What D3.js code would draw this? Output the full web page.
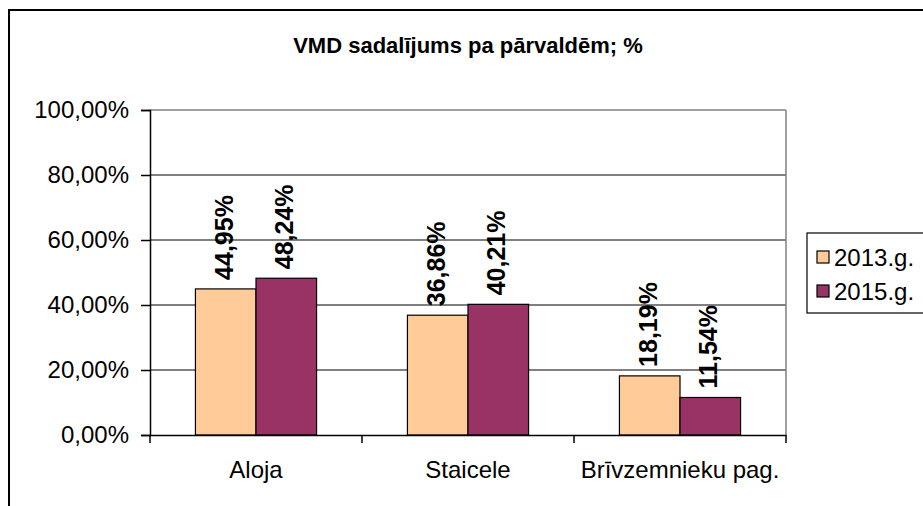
<!DOCTYPE html>
<html lang="lv">
<head>
  <meta charset="UTF-8">
  <title>VMD sadalījums pa pārvaldēm</title>
  <script src="https://d3js.org/d3.v7.min.js"></script>
  <style>
    body { margin: 0; background: #fff; }
    svg { display: block; font-family: "Liberation Sans", Arial, sans-serif; }
  </style>
</head>
<body>
  <svg id="chart" width="923" height="506"></svg>
  <script>
    // Data
    const categories = ["Aloja", "Staicele", "Brīvzemnieku pag."];
    const seriesNames = ["2013.g.", "2015.g."];
    const values2013 = [44.95, 36.86, 18.19];
    const values2015 = [48.24, 40.21, 11.54];
    const yTicks = [0, 20, 40, 60, 80, 100];
    const colors = ["#FFCC99", "#993366"];

    const svg = d3.select("#chart");
    const fmt = v => v.toFixed(2).replace(".", ",") + "%";
    const FONT = "Liberation Sans, Arial, sans-serif";

    // outer chart border
    svg.append("rect")
      .attr("x", 9).attr("y", 10)
      .attr("width", 1000).attr("height", 600)
      .attr("fill", "#fff").attr("stroke", "#000").attr("stroke-width", 2);

    svg.append("text")
      .attr("x", 468).attr("y", 53)
      .attr("text-anchor", "middle")
      .attr("font-size", 22).attr("font-weight", "bold")
      .text("VMD sadalījums pa pārvaldēm; %");

    const plot = {left: 150, right: 786, top: 110, bottom: 435};

    const x = d3.scaleBand().domain(categories).range([plot.left, plot.right]);
    const y = d3.scaleLinear().domain([0, 100]).range([plot.bottom, plot.top]);
    // inner scale: 150% gap width -> bars take 2/(2+1.5) of band
    const barW = x.bandwidth() / 3.5;
    const xs = d3.scaleBand().domain(seriesNames).range([0, barW * 2]);

    // gridlines (top one is the grey plot border)
    svg.append("g").selectAll("line")
      .data(yTicks.filter(t => t > 0))
      .join("line")
      .attr("x1", plot.left).attr("x2", plot.right)
      .attr("y1", d => y(d)).attr("y2", d => y(d))
      .attr("stroke", d => d === 100 ? "#808080" : "#000")
      .attr("stroke-width", d => d === 100 ? 1.5 : 1);

    // right plot edge (grey)
    svg.append("line")
      .attr("x1", plot.right).attr("x2", plot.right)
      .attr("y1", plot.top).attr("y2", plot.bottom)
      .attr("stroke", "#808080").attr("stroke-width", 1.5);

    const data = [];
    categories.forEach((c, i) => {
      data.push({cat: c, s: seriesNames[0], v: values2013[i], c: colors[0]});
      data.push({cat: c, s: seriesNames[1], v: values2015[i], c: colors[1]});
    });

    const bx = d => x(d.cat) + (x.bandwidth() - barW * 2) / 2 + xs(d.s);

    svg.append("g").selectAll("rect")
      .data(data)
      .join("rect")
      .attr("x", bx)
      .attr("y", d => y(d.v))
      .attr("width", barW)
      .attr("height", d => y(0) - y(d.v))
      .attr("fill", d => d.c)
      .attr("stroke", "#000").attr("stroke-width", 1.2);

    // data labels, rotated
    svg.append("g").selectAll("text")
      .data(data)
      .join("text")
      .attr("transform", d => `translate(${bx(d) + barW / 2 + 7},${y(d.v) - 9}) rotate(-90)`)
      .attr("font-size", 25).attr("font-weight", "bold")
      .text(d => fmt(d.v));

    // y axis
    const yAxis = svg.append("g")
      .attr("transform", `translate(${plot.left},0)`)
      .call(d3.axisLeft(y).tickValues(yTicks).tickSize(9).tickPadding(12)
        .tickFormat(d => d.toFixed(2).replace(".", ",") + "%"));
    yAxis.select(".domain").attr("stroke", "#000").attr("stroke-width", 1.5);
    yAxis.selectAll(".tick line").attr("stroke-width", 1.5);
    yAxis.selectAll("text").attr("font-size", 24).attr("fill", "#000")
      .attr("font-family", FONT);

    // x axis
    const xAxis = svg.append("g")
      .attr("transform", `translate(0,${plot.bottom})`)
      .call(d3.axisBottom(x).tickSize(0).tickPadding(26));
    xAxis.select(".domain").attr("stroke", "#000").attr("stroke-width", 1.5);
    xAxis.selectAll("text").attr("font-size", 24).attr("fill", "#000")
      .attr("font-family", FONT);
    // category boundary ticks
    xAxis.append("g").selectAll("line")
      .data(categories.map(c => x(c)).concat([plot.right]))
      .join("line")
      .attr("x1", d => d).attr("x2", d => d)
      .attr("y1", 0).attr("y2", 8)
      .attr("stroke", "#000").attr("stroke-width", 1.5);

    // legend
    const lg = svg.append("g");
    lg.append("rect")
      .attr("x", 807).attr("y", 233).attr("width", 200).attr("height", 80)
      .attr("fill", "#fff").attr("stroke", "#000").attr("stroke-width", 1.2);
    seriesNames.forEach((s, i) => {
      lg.append("rect")
        .attr("x", 817).attr("y", 251 + i * 34).attr("width", 12).attr("height", 12)
        .attr("fill", colors[i]).attr("stroke", "#000").attr("stroke-width", 1.2);
      lg.append("text")
        .attr("x", 834).attr("y", 266 + i * 34)
        .attr("font-size", 24)
        .text(s);
    });
  </script>
</body>
</html>
